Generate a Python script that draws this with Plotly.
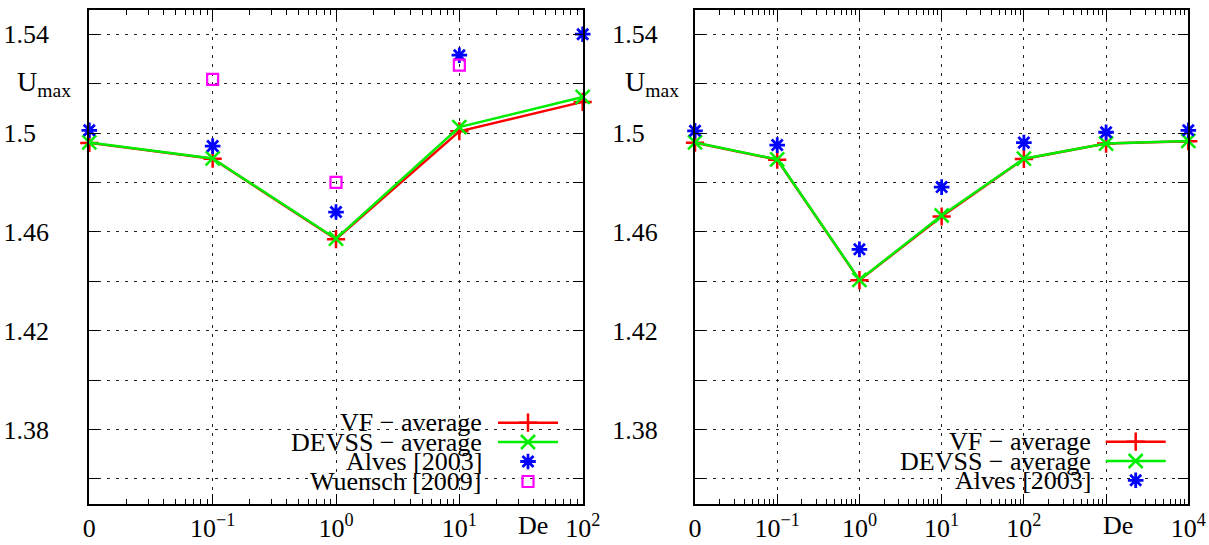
import numpy as np
import plotly.graph_objects as go

# ---------------- data ----------------
# left panel (De = 0 is drawn at 1e-2)
de_left = [1e-2, 1e-1, 1e0, 1e1, 1e2]
vf_left = [1.4960, 1.4896, 1.4570, 1.5007, 1.5126]
devss_left = [1.4962, 1.4897, 1.4572, 1.5024, 1.5146]
alves_left = [1.5011, 1.4947, 1.4680, 1.5315, 1.5400]
wuensch_de = [1e-1, 1e0, 1e1]
wuensch_left = [1.5217, 1.4800, 1.5275]
xtick_vals_left = [1e-2, 1e-1, 1e0, 1e1, 1e2]
xtick_text_left = ["0", "10<sup>−1</sup>", "10<sup>0</sup>", "10<sup>1</sup>", "10<sup>2</sup>"]

# right panel
de_right = [1e-2, 1e-1, 1e0, 1e1, 1e2, 1e3, 1e4]
vf_right = [1.4961, 1.4892, 1.4404, 1.4662, 1.4895, 1.4957, 1.4967]
devss_right = [1.4962, 1.4893, 1.4405, 1.4666, 1.4896, 1.4957, 1.4968]
alves_right = [1.5009, 1.4951, 1.4529, 1.4781, 1.4961, 1.5003, 1.5011]
xtick_vals_right = [1e-2, 1e-1, 1e0, 1e1, 1e2, 1e3, 1e4]
xtick_text_right = ["0", "10<sup>−1</sup>", "10<sup>0</sup>", "10<sup>1</sup>", "10<sup>2</sup>", "", "10<sup>4</sup>"]

ytick_vals = [1.36, 1.38, 1.40, 1.42, 1.44, 1.46, 1.48, 1.50, 1.52, 1.54]
ytick_text = ["", "1.38", "", "1.42", "", "1.46", "", "1.5\u2007", "", "1.54"]

legend_left = ["VF − average", "DEVSS − average", "Alves [2003]", "Wuensch [2009]"]
legend_right = ["VF − average", "DEVSS − average", "Alves [2003]"]

# ---------------- styling ----------------
W, H = 1209, 545
FONT = "Liberation Serif"
FS = 26
RED, GREEN, BLUE, MAG = "#ff0000", "#00ee00", "#0000ff", "#ff00ff"
LW = 2.5

def px_x(p):
    return p / W

def px_y(p):
    return 1 - p / H

dom_left = [px_x(89.3), px_x(582.7)]
dom_right = [px_x(695.0), px_x(1188.3)]
dom_y = [px_y(503.5), px_y(9.5)]

def minor_vals(lo, hi):
    v = []
    for d in range(lo, hi):
        for k in range(2, 10):
            v.append(k * 10.0 ** d)
    return v

styles = {
    "vf": dict(mode="lines+markers", line=dict(color=RED, width=LW),
               marker=dict(symbol="cross-thin-open", size=13, color=RED,
                           line=dict(color=RED, width=2.5))),
    "devss": dict(mode="lines+markers", line=dict(color=GREEN, width=LW),
                  marker=dict(symbol="x-thin-open", size=14, color=GREEN,
                              line=dict(color=GREEN, width=2.5))),
    "alves": dict(mode="markers",
                  marker=dict(symbol="asterisk-open", size=13, color=BLUE,
                              line=dict(color=BLUE, width=2.8))),
    "wuensch": dict(mode="markers",
                    marker=dict(symbol="square-open", size=11, color=MAG,
                                line=dict(color=MAG, width=2.2))),
}

fig = go.Figure()
# left
fig.add_trace(go.Scatter(x=de_left, y=vf_left, xaxis="x", yaxis="y", cliponaxis=False, **styles["vf"]))
fig.add_trace(go.Scatter(x=de_left, y=devss_left, xaxis="x", yaxis="y", cliponaxis=False, **styles["devss"]))
fig.add_trace(go.Scatter(x=de_left, y=alves_left, xaxis="x", yaxis="y", cliponaxis=False, **styles["alves"]))
fig.add_trace(go.Scatter(x=wuensch_de, y=wuensch_left, xaxis="x", yaxis="y", cliponaxis=False, **styles["wuensch"]))
# right
fig.add_trace(go.Scatter(x=de_right, y=vf_right, xaxis="x2", yaxis="y2", cliponaxis=False, **styles["vf"]))
fig.add_trace(go.Scatter(x=de_right, y=devss_right, xaxis="x2", yaxis="y2", cliponaxis=False, **styles["devss"]))
fig.add_trace(go.Scatter(x=de_right, y=alves_right, xaxis="x2", yaxis="y2", cliponaxis=False, **styles["alves"]))

# legend keys drawn on hidden overlay axes in pixel space
def legend_keys(xa, ya, names, x_text, x_l0, x_l1, ys):
    keys = ["vf", "devss", "alves", "wuensch"][: len(names)]
    for key, yy in zip(keys, ys):
        st = styles[key]
        xm = (x_l0 + x_l1) / 2
        if key in ("vf", "devss"):
            fig.add_trace(go.Scatter(x=[x_l0, x_l1], y=[yy, yy], mode="lines",
                                     line=st["line"], xaxis=xa, yaxis=ya, hoverinfo="skip"))
        fig.add_trace(go.Scatter(x=[xm], y=[yy], mode="markers", marker=st["marker"],
                                 xaxis=xa, yaxis=ya, hoverinfo="skip"))
    for name, yy in zip(names, ys):
        fig.add_annotation(text=name, x=px_x(x_text), y=px_y(yy), xref="paper", yref="paper",
                           xanchor="right", yanchor="middle", showarrow=False,
                           font=dict(family=FONT, size=FS, color="black"))

legend_keys("x3", "y3", legend_left, 484, 498, 558, [422.7, 442.0, 461.5, 481.5])
legend_keys("x4", "y4", legend_right, 1092.7, 1105.7, 1165.7, [441.7, 461.0, 480.3])

axis_common = dict(showline=True, linecolor="black", linewidth=2, mirror="allticks",
                   ticks="inside", ticklen=10, tickwidth=1.3, tickcolor="black",
                   showgrid=True, gridcolor="#222222", griddash="3px,6px", gridwidth=1,
                   zeroline=False, tickfont=dict(family=FONT, size=FS, color="black"),
                   automargin=False)

fig.update_layout(
    width=W, height=H, margin=dict(l=0, r=0, t=0, b=0),
    paper_bgcolor="white", plot_bgcolor="white", showlegend=False,
    xaxis=dict(domain=dom_left, type="log", range=[-2, 2], anchor="y",
               tickmode="array", tickvals=xtick_vals_left, ticktext=xtick_text_left,
               ticklabelstandoff=0,
               minor=dict(tickmode="array", tickvals=minor_vals(-2, 2), ticks="inside",
                          ticklen=5, tickcolor="black", tickwidth=1.3, showgrid=False),
               **axis_common),
    yaxis=dict(domain=dom_y, range=[1.35, 1.55], anchor="x",
               tickmode="array", tickvals=ytick_vals, ticktext=ytick_text,
               ticklabelstandoff=33, **axis_common),
    xaxis2=dict(domain=dom_right, type="log", range=[-2, 4], anchor="y2",
                tickmode="array", tickvals=xtick_vals_right, ticktext=xtick_text_right,
                ticklabelstandoff=0,
                minor=dict(tickmode="array", tickvals=minor_vals(-2, 4), ticks="inside",
                           ticklen=5, tickcolor="black", tickwidth=1.3, showgrid=False),
                **axis_common),
    yaxis2=dict(domain=dom_y, range=[1.35, 1.55], anchor="x2",
                tickmode="array", tickvals=ytick_vals, ticktext=ytick_text,
                ticklabelstandoff=30, **axis_common),
    xaxis3=dict(domain=dom_left, range=[89.3, 582.7], anchor="y3", overlaying="x",
                visible=False, fixedrange=True),
    yaxis3=dict(domain=dom_y, range=[503.5, 9.5], anchor="x3", overlaying="y",
                visible=False, fixedrange=True),
    xaxis4=dict(domain=dom_right, range=[695.0, 1188.3], anchor="y4", overlaying="x2",
                visible=False, fixedrange=True),
    yaxis4=dict(domain=dom_y, range=[503.5, 9.5], anchor="x4", overlaying="y2",
                visible=False, fixedrange=True),
)

# axis labels placed like gnuplot: "U_max" at the 1.52 level, "De" among x tick labels
for xl, yr in ((15, "y"), (623, "y2")):
    fig.add_annotation(text="U<sub>max</sub>", x=px_x(xl), y=1.52, xref="paper",
                       yref=yr, xanchor="left", yanchor="middle",
                       showarrow=False, font=dict(family=FONT, size=28, color="black"))
for xc in (533, 1118):
    fig.add_annotation(text="De", x=px_x(xc), y=px_y(525), xref="paper", yref="paper",
                       xanchor="center", yanchor="middle", showarrow=False,
                       font=dict(family=FONT, size=FS, color="black"))

fig.write_html("out.html")
